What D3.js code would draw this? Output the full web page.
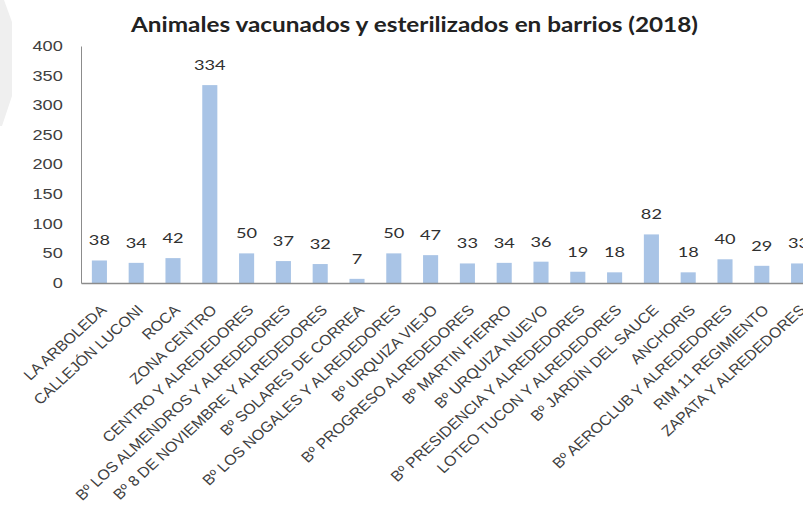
<!DOCTYPE html>
<html lang="es">
<head>
  <meta charset="UTF-8" />
  <title>Animales vacunados y esterilizados en barrios (2018)</title>
  <style>
    body { margin: 0; background: #fff; }
    svg { display: block; font-family: Lato, "Open Sans", sans-serif; }
    .tick text { fill: #404040; }
  </style>
</head>
<body>
  <div id="chart"></div>
  <script src="https://d3js.org/d3.v7.min.js"></script>
  <script>
    const barrios = [
      'LA ARBOLEDA', 'CALLEJÓN LUCONI', 'ROCA', 'ZONA CENTRO', 'CENTRO Y ALREDEDORES',
      'Bº LOS ALMENDROS Y ALREDEDORES', 'Bº 8 DE NOVIEMBRE Y ALREDEDORES', 'Bº SOLARES DE CORREA',
      'Bº LOS NOGALES Y ALREDEDORES', 'Bº URQUIZA VIEJO', 'Bº PROGRESO ALREDEDORES',
      'Bº MARTIN FIERRO', 'Bº URQUIZA NUEVO', 'Bº PRESIDENCIA  Y ALREDEDORES',
      'LOTEO TUCON Y ALREDEDORES', 'Bº JARDÍN DEL SAUCE', 'ANCHORIS',
      'Bº AEROCLUB Y ALREDEDORES', 'RIM 11 REGIMIENTO', 'ZAPATA Y ALREDEDORES'
    ];
    const animales = [38, 34, 42, 334, 50, 37, 32, 7, 50, 47, 33, 34, 36, 19, 18, 82, 18, 40, 29, 33];
    const yTicks = [0, 50, 100, 150, 200, 250, 300, 350, 400];

    const width = 803, height = 509;
    const plotLeft = 81, plotTop = 46, plotBottom = 283, plotRight = 817; // plot runs past the window edge
    const stretch = 1.3; // the original screenshot is widened horizontally

    const svg = d3.select('#chart').append('svg')
      .attr('width', width)
      .attr('height', height);

    // faint grey shape on the left edge of the original screenshot
    svg.append('path')
      .attr('d', 'M0,0 L4,0 L12,22 L12,96 L2,126 L0,126 Z')
      .attr('fill', '#efefef');

    const x = d3.scaleBand().domain(barrios).range([plotLeft, plotRight])
      .paddingInner(0.59).paddingOuter(0.295);
    const y = d3.scaleLinear().domain([0, 400]).range([plotBottom, plotTop]);

    svg.append('text')
      .attr('x', 131).attr('y', 32)
      .attr('font-size', 21).attr('font-weight', 'bold')
      .attr('fill', '#222')
      .attr('textLength', 567).attr('lengthAdjust', 'spacingAndGlyphs')
      .text('Animales vacunados y esterilizados en barrios (2018)');

    // y axis
    const yAxis = svg.append('g')
      .attr('transform', `translate(${plotLeft},0)`)
      .call(d3.axisLeft(y).tickValues(yTicks).tickSize(0).tickPadding(14));
    yAxis.select('.domain').attr('stroke', '#8c8c8c');
    yAxis.selectAll('.tick text')
      .attr('font-size', 14)
      .attr('transform', `scale(${stretch},1)`);

    // bars
    svg.selectAll('rect.bar')
      .data(animales)
      .enter()
      .append('rect')
      .attr('class', 'bar')
      .attr('x', (d, i) => x(barrios[i]))
      .attr('y', d => y(d))
      .attr('width', x.bandwidth())
      .attr('height', d => y(0) - y(d))
      .attr('fill', '#a9c4e6');

    // value labels
    svg.selectAll('text.val')
      .data(animales)
      .enter()
      .append('text')
      .attr('class', 'val')
      .attr('transform', (d, i) =>
        `translate(${x(barrios[i]) + x.bandwidth() / 2},${y(d) - 15}) scale(${stretch},1)`)
      .attr('text-anchor', 'middle')
      .attr('font-size', 14)
      .attr('fill', '#303030')
      .text(d => d);

    // x axis
    const xAxis = svg.append('g')
      .attr('transform', `translate(0,${plotBottom})`)
      .call(d3.axisBottom(x).tickSize(0).tickPadding(0));
    xAxis.select('.domain').attr('stroke', '#8c8c8c').attr('stroke-width', 1.5);
    xAxis.selectAll('.tick text')
      .attr('font-size', 14.5)
      .attr('text-anchor', 'end')
      .attr('y', 0)
      .attr('dy', 0)
      .attr('transform', 'translate(8,28) scale(1.1,1) rotate(-45)');
  </script>
</body>
</html>
